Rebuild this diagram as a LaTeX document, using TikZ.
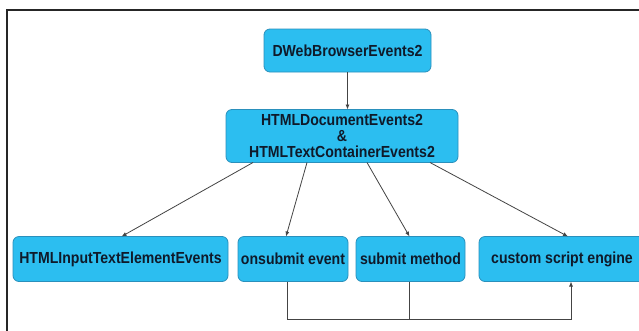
\documentclass[tikz,border=0pt]{standalone}
\usepackage{fontspec}
\setmainfont[FakeStretch=0.88]{Liberation Sans}
\usetikzlibrary{arrows.meta}
\definecolor{boxfill}{HTML}{2CBEF0}
\definecolor{boxline}{HTML}{2A90BC}
\definecolor{boxtext}{HTML}{0F1A2A}
\definecolor{wire}{HTML}{444444}
\tikzset{
  evbox/.style={draw=boxline, line width=0.8pt, fill=boxfill, rounded corners=6pt,
    inner sep=0pt, outer sep=0pt, align=center, text=boxtext,
    font=\fontsize{16}{16}\selectfont\bfseries},
  link/.style={draw=wire, line width=0.8pt, -{Latex[length=5pt,width=4pt]}},
  plain/.style={draw=wire, line width=0.8pt},
}
\begin{document}
\begin{tikzpicture}[x=1pt,y=-1pt]
\useasboundingbox (0,0) rectangle (639,330);
\clip (0,0) rectangle (639,330);
\fill[white] (0,0) rectangle (639,330);
% outer frame
\draw[line width=2.6pt, color=black!85] (7,360) -- (7,10) -- (660,10);

% nodes
\node[evbox, minimum width=167pt, minimum height=43pt] (dweb) at (347.5,50.5) {DWebBrowserEvents2};
\node[evbox, minimum width=232pt, minimum height=53pt] (doc) at (342,136) {HTMLDocumentEvents2\\\&\\HTMLTextContainerEvents2};
\node[evbox, minimum width=215pt, minimum height=45pt] (input) at (120.5,259) {HTMLInputTextElementEvents};
\node[evbox, minimum width=110pt, minimum height=45pt] (onsub) at (293,259) {onsubmit event};
\node[evbox, minimum width=109pt, minimum height=45pt] (submeth) at (410.5,259) {submit method};
\node[evbox, minimum width=166pt, minimum height=45pt] (script) at (562,259) {custom script engine};

% connectors
\draw[link] (dweb.south) -- (dweb.south |- doc.north);
\draw[link] ([xshift=-89pt]doc.south) -- ([xshift=1pt]input.north);
\draw[link] ([xshift=-35pt]doc.south) -- ([xshift=-7pt]onsub.north);
\draw[link] ([xshift=25pt]doc.south) -- ([xshift=-1pt]submeth.north);
\draw[link] ([xshift=88pt]doc.south) -- ([xshift=6pt]script.north);

\coordinate (busL) at ([xshift=-6pt]onsub.south |- 0,319);
\coordinate (busR) at ([xshift=9pt]script.south |- 0,319);
\draw[plain] ([xshift=-6pt]onsub.south) -- (busL);
\draw[plain] ([xshift=-1.5pt]submeth.south) -- ([xshift=-1.5pt]submeth.south |- busL);
\draw[link] (busL) -- (busR) -- ([xshift=9pt]script.south);
\end{tikzpicture}
\end{document}
